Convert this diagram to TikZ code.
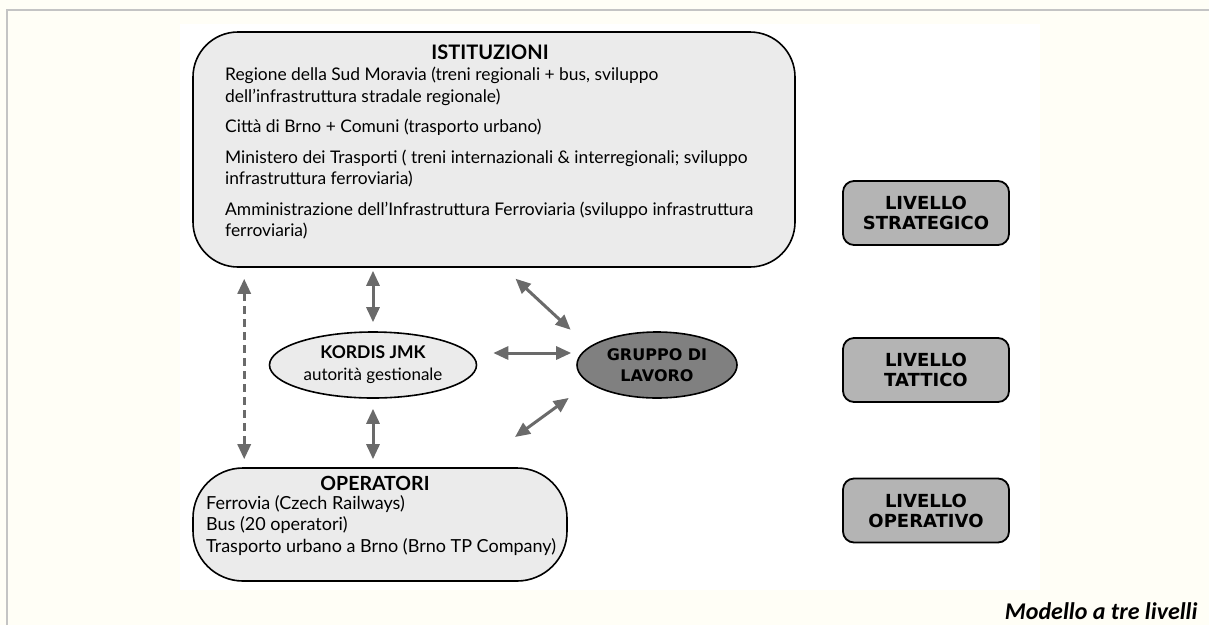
\documentclass[tikz,border=0pt]{standalone}
\usepackage{fontspec}
\setmainfont{Lato}
\newfontfamily\levelfont{DejaVu Sans}
\newfontfamily\captionfont{Carlito}
\usetikzlibrary{shapes.geometric, arrows.meta}
\definecolor{cream}{HTML}{FFFEF6}
\definecolor{framegrey}{HTML}{C4C4C4}
\definecolor{lightgrey}{HTML}{EBEBEB}
\definecolor{midgrey}{HTML}{B4B4B4}
\definecolor{darkgrey}{HTML}{808080}
\definecolor{arrowgrey}{HTML}{6A6A6A}

\begin{document}
\begin{tikzpicture}[x=1pt,y=-1pt,
  blockbox/.style={draw,line width=1.6pt,fill=lightgrey,inner sep=0pt},
  actor/.style={ellipse,draw,line width=1.6pt,inner sep=0pt,minimum height=66pt,align=center},
  levelbox/.style={draw,line width=1.8pt,fill=midgrey,rounded corners=11pt,
    minimum width=166pt,minimum height=64pt,align=center,
    font=\levelfont\bfseries\fontsize{18}{20}\selectfont},
  biarrow/.style={{Triangle[length=15pt,width=13pt]}-{Triangle[length=15pt,width=13pt]},
    draw=arrowgrey,line width=3pt}]
\useasboundingbox (0,0) rectangle (1209,625);
\fill[cream] (0,0) rectangle (1209,625);
\draw[framegrey,line width=2pt] (7,625) -- (7,10) -- (1209,10);
\fill[white] (180,24) rectangle (1040,590);

% istituzioni
\node[blockbox,rounded corners=45pt,minimum width=602pt,minimum height=235pt] (istituzioni) at (494,149.5) {};
\node[font=\bfseries\fontsize{20}{24}\selectfont] (istTitle) at (490,52) {ISTITUZIONI};
\node[anchor=north west,align=left,inner sep=0pt,font=\fontsize{17.4}{21.5}\selectfont] (istText) at (225,67)
  {Regione della Sud Moravia (treni regionali + bus, sviluppo\\
   dell'infrastruttura stradale regionale)\\[9pt]
   Città di Brno + Comuni (trasporto urbano)\\[9pt]
   Ministero dei Trasporti ( treni internazionali \& interregionali; sviluppo\\
   infrastruttura ferroviaria)\\[9pt]
   Amministrazione dell'Infrastruttura Ferroviaria (sviluppo infrastruttura\\
   ferroviaria)};

% attori intermedi
\node[actor,fill=lightgrey,minimum width=207pt,font=\fontsize{17}{22}\selectfont] (kordis) at (373,365)
  {{\bfseries\fontsize{17.5}{22}\selectfont KORDIS JMK}\\autorità gestionale};
\node[actor,fill=darkgrey,minimum width=160pt,font=\levelfont\bfseries\fontsize{16}{21}\selectfont] (gruppo) at (657,365)
  {GRUPPO DI\\LAVORO};

% operatori
\node[blockbox,rounded corners=50pt,minimum width=374pt,minimum height=113pt] (operatori) at (380,524.5) {};
\node[font=\bfseries\fontsize{19.5}{22}\selectfont] (opTitle) at (375,483) {OPERATORI};
\node[anchor=north west,align=left,inner sep=0pt,font=\fontsize{18}{21.5}\selectfont] (opText) at (206,495)
  {Ferrovia (Czech Railways)\\
   Bus (20 operatori)\\
   Trasporto urbano a Brno (Brno TP Company)};

% livelli
\node[levelbox] (strategico) at (926,213) {LIVELLO\\STRATEGICO};
\node[levelbox] (tattico) at (926,370) {LIVELLO\\TATTICO};
\node[levelbox] (operativo) at (926,510.5) {LIVELLO\\OPERATIVO};

\node[anchor=east,font=\captionfont\bfseries\itshape\fontsize{24}{28}\selectfont] (caption) at (1201,611)
  {Modello a tre livelli};

\coordinate (lowtip) at (515,437);

\draw[biarrow,shorten <=3pt,shorten >=9pt] (istituzioni.south -| kordis) -- (kordis.north);
\draw[biarrow,shorten <=10pt,shorten >=8pt] (kordis.south) -- (operatori.north -| kordis);
\draw[biarrow,dash pattern=on 8pt off 5pt,shorten <=11pt,shorten >=8pt]
  ([xshift=52pt]istituzioni.south west) -- ([xshift=52pt]operatori.north west);
\draw[biarrow,shorten <=16pt,shorten >=5pt] ([yshift=12pt]kordis.east) -- ([yshift=12pt]gruppo.west);
\draw[biarrow,shorten <=16pt,shorten >=25pt] ([xshift=-292pt]istituzioni.south east) -- (gruppo.165);
\draw[biarrow,shorten <=25pt] (gruppo.195) -- (lowtip);
\end{tikzpicture}
\end{document}
